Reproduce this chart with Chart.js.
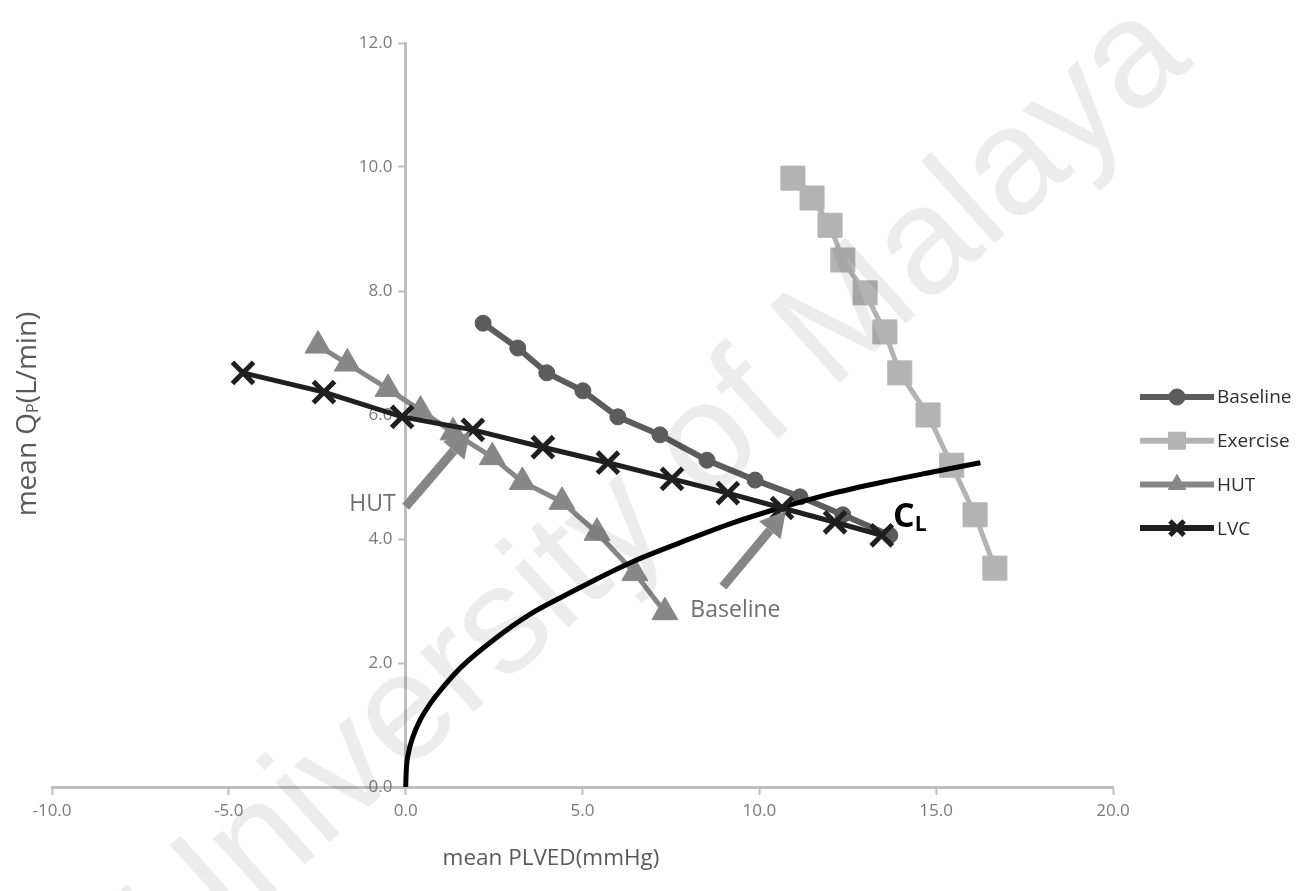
<!DOCTYPE html>
<html>
<head>
<meta charset="utf-8">
<title>Mean PLVED vs mean QP</title>
<script src="https://cdn.jsdelivr.net/npm/chart.js@4.4.1/dist/chart.umd.min.js"></script>
<style>
  html, body { margin: 0; padding: 0; background: #fff; }
  #wrap { width: 1314px; height: 891px; }
</style>
</head>
<body>
<div id="wrap"><canvas id="plvChart" width="1314" height="891"></canvas></div>
<script>
// mean PLVED (mmHg) / mean QP (L/min) for each condition
const baselineX = [2.19, 3.17, 3.99, 5.01, 6.0, 7.19, 8.52, 9.88, 11.15, 12.36, 13.69];
const baselineY = [7.48, 7.08, 6.68, 6.39, 5.97, 5.68, 5.27, 4.95, 4.68, 4.39, 4.06];

const exerciseX = [10.95, 11.49, 12.0, 12.36, 12.99, 13.55, 13.97, 14.77, 15.44, 16.1, 16.66];
const exerciseY = [9.82, 9.5, 9.06, 8.5, 7.97, 7.34, 6.68, 6.0, 5.19, 4.39, 3.53];

const hutX = [-2.48, -1.65, -0.5, 0.42, 1.34, 2.45, 3.3, 4.42, 5.41, 6.48, 7.33];
const hutY = [7.12, 6.83, 6.42, 6.07, 5.72, 5.32, 4.92, 4.6, 4.1, 3.45, 2.82];

const lvcX = [-4.6, -2.31, -0.1, 1.9, 3.88, 5.72, 7.53, 9.11, 10.64, 12.14, 13.46];
const lvcY = [6.68, 6.37, 5.97, 5.76, 5.48, 5.23, 4.97, 4.74, 4.5, 4.27, 4.06];

// CL curve, read along its length
const clX = [0, 0.02, 0.08, 0.2, 0.4, 0.7, 1.1, 1.6, 2.5, 3.5, 4.4, 5.35, 6.4, 7.8, 9.25, 10.7, 12.1, 13.5, 14.9, 16.25];
const clY = [0, 0.3, 0.55, 0.8, 1.07, 1.35, 1.64, 1.95, 2.38, 2.78, 3.06, 3.34, 3.63, 3.95, 4.26, 4.52, 4.74, 4.92, 5.08, 5.23];

const seriesNames = ['Baseline', 'Exercise', 'HUT', 'LVC'];

// pointer arrows with their captions, in data units
const arrowFrom = [[0.0, 4.52], [8.97, 3.23]];
const arrowTo = [[1.82, 5.73], [10.75, 4.45]];
const arrowText = ['HUT', 'Baseline'];
const arrowTextAt = [[-0.28, 4.55], [8.05, 2.85]];

const clLabelAt = [13.78, 4.2];

const toPoints = (xs, ys) => xs.map((x, i) => ({ x: x, y: ys[i] }));

const FONT = '"Open Sans", "DejaVu Sans", sans-serif';

function drawArrow(ctx, x1, y1, x2, y2) {
    const ang = Math.atan2(y2 - y1, x2 - x1);
    const headLen = 25, headW = 14;
    const bx = x2 - headLen * Math.cos(ang);
    const by = y2 - headLen * Math.sin(ang);
    ctx.strokeStyle = '#868686';
    ctx.fillStyle = '#868686';
    ctx.lineWidth = 9;
    ctx.beginPath();
    ctx.moveTo(x1, y1);
    ctx.lineTo(bx, by);
    ctx.stroke();
    ctx.beginPath();
    ctx.moveTo(x2, y2);
    ctx.lineTo(bx + headW * Math.sin(ang), by - headW * Math.cos(ang));
    ctx.lineTo(bx - headW * Math.sin(ang), by + headW * Math.cos(ang));
    ctx.closePath();
    ctx.fill();
}

const extras = {
    id: 'extras',
    beforeDraw(chart) {
        const ctx = chart.ctx;
        ctx.save();
        ctx.fillStyle = '#fff';
        ctx.fillRect(0, 0, chart.width, chart.height);
        ctx.restore();
    },
    afterDatasetsDraw(chart) {
        const ctx = chart.ctx;
        const xs = chart.scales.x, ys = chart.scales.y;
        ctx.save();
        arrowFrom.forEach((f, i) => {
            drawArrow(ctx,
                xs.getPixelForValue(f[0]), ys.getPixelForValue(f[1]),
                xs.getPixelForValue(arrowTo[i][0]), ys.getPixelForValue(arrowTo[i][1]));
            ctx.font = '23px ' + FONT;
            ctx.fillStyle = '#6f6f6f';
            ctx.textBaseline = 'middle';
            ctx.textAlign = i === 0 ? 'right' : 'left';
            ctx.fillText(arrowText[i], xs.getPixelForValue(arrowTextAt[i][0]), ys.getPixelForValue(arrowTextAt[i][1]));
        });

        // C with subscript L
        const cx = xs.getPixelForValue(clLabelAt[0]);
        const cy = ys.getPixelForValue(clLabelAt[1]);
        ctx.fillStyle = '#000';
        ctx.textAlign = 'left';
        ctx.textBaseline = 'alphabetic';
        ctx.font = 'bold 34px ' + FONT;
        ctx.fillText('C', cx, cy);
        const cw = ctx.measureText('C').width;
        ctx.font = 'bold 21px ' + FONT;
        ctx.fillText('L', cx + cw, cy + 4);
        ctx.restore();
    },
    afterDraw(chart) {
        const ctx = chart.ctx;
        const area = chart.chartArea;
        ctx.save();

        // legend: line sample with marker, then name
        const lx = area.right + 27;
        seriesNames.forEach((name, i) => {
            const ds = chart.data.datasets.find(d => d.label === name);
            const y = 397 + i * 43.7;
            ctx.strokeStyle = ds.borderColor;
            ctx.lineWidth = 6;
            ctx.beginPath();
            ctx.moveTo(lx, y);
            ctx.lineTo(lx + 74, y);
            ctx.stroke();
            ctx.fillStyle = ds.pointBackgroundColor;
            ctx.strokeStyle = ds.pointBorderColor;
            ctx.lineWidth = ds.pointBorderWidth;
            Chart.helpers.drawPoint(ctx, {
                pointStyle: ds.pointStyle,
                radius: ds.legendRadius,
                borderWidth: ds.pointBorderWidth,
                rotation: 0
            }, lx + 37, y);
            ctx.fillStyle = '#2e2e2e';
            ctx.font = '19px ' + FONT;
            ctx.textAlign = 'left';
            ctx.textBaseline = 'middle';
            ctx.fillText(name, lx + 77, y + 1);
        });

        // axis titles
        ctx.fillStyle = '#595959';
        ctx.font = '22.5px ' + FONT;
        ctx.textAlign = 'center';
        ctx.textBaseline = 'middle';
        ctx.fillText('mean PLVED(mmHg)', 551, 859);

        ctx.translate(28, 414);
        ctx.rotate(-Math.PI / 2);
        const big = '28px ' + FONT, small = '16px ' + FONT;
        ctx.font = big;
        const w1 = ctx.measureText('mean Q').width;
        const w3 = ctx.measureText('(L/min)').width;
        ctx.font = small;
        const w2 = ctx.measureText('P').width;
        const x0 = -(w1 + w2 + w3) / 2;
        ctx.textAlign = 'left';
        ctx.font = big;
        ctx.fillText('mean Q', x0, 0);
        ctx.font = small;
        ctx.fillText('P', x0 + w1, 5);
        ctx.font = big;
        ctx.fillText('(L/min)', x0 + w1 + w2, 0);
        ctx.restore();

        // faint diagonal watermark over the whole figure
        ctx.save();
        ctx.globalCompositeOperation = 'multiply';
        ctx.fillStyle = '#ececec';
        ctx.font = '152px "Liberation Sans", Arial, sans-serif';
        ctx.translate(658, 490);
        ctx.rotate(-42 * Math.PI / 180);
        ctx.textAlign = 'center';
        ctx.textBaseline = 'middle';
        ctx.fillText('University of Malaya', 0, 0);
        ctx.restore();
    }
};

document.addEventListener('DOMContentLoaded', () => {
    const ctx = document.getElementById('plvChart').getContext('2d');
    const axisGray = '#bfbfbf';
    const tickFont = { family: FONT, size: 17 };

    new Chart(ctx, {
        type: 'scatter',
        data: {
            datasets: [
                {
                    label: 'LVC',
                    data: toPoints(lvcX, lvcY),
                    showLine: true,
                    borderColor: '#1f1f1f',
                    borderWidth: 5,
                    pointStyle: 'crossRot',
                    pointRadius: 15,
                    pointBorderWidth: 5,
                    pointBorderColor: '#1f1f1f',
                    pointBackgroundColor: '#1f1f1f',
                    legendRadius: 10,
                    order: 0
                },
                {
                    label: 'CL',
                    data: toPoints(clX, clY),
                    showLine: true,
                    borderColor: '#000',
                    borderWidth: 5,
                    pointRadius: 0,
                    cubicInterpolationMode: 'monotone',
                    order: 1
                },
                {
                    label: 'HUT',
                    data: toPoints(hutX, hutY),
                    showLine: true,
                    borderColor: '#878787',
                    borderWidth: 5,
                    pointStyle: 'triangle',
                    pointRadius: 15,
                    pointBorderWidth: 1,
                    pointBorderColor: '#878787',
                    pointBackgroundColor: '#878787',
                    legendRadius: 10,
                    order: 2
                },
                {
                    label: 'Baseline',
                    data: toPoints(baselineX, baselineY),
                    showLine: true,
                    borderColor: '#5c5c5c',
                    borderWidth: 6,
                    pointStyle: 'circle',
                    pointRadius: 8,
                    pointBorderWidth: 1,
                    pointBorderColor: '#5c5c5c',
                    pointBackgroundColor: '#5c5c5c',
                    legendRadius: 8,
                    order: 3
                },
                {
                    label: 'Exercise',
                    data: toPoints(exerciseX, exerciseY),
                    showLine: true,
                    borderColor: '#b3b3b3',
                    borderWidth: 5,
                    pointStyle: 'rect',
                    pointRadius: 17,
                    pointBorderWidth: 1,
                    pointBorderColor: '#b3b3b3',
                    pointBackgroundColor: '#b3b3b3',
                    legendRadius: 12,
                    order: 4
                }
            ]
        },
        options: {
            responsive: false,
            animation: false,
            events: [],
            layout: { padding: { left: 52, right: 201, top: 43, bottom: 104 } },
            plugins: {
                legend: { display: false },
                tooltip: { enabled: false }
            },
            scales: {
                x: {
                    type: 'linear',
                    min: -10,
                    max: 20,
                    position: { y: 0 },
                    border: { display: true, color: axisGray, width: 3 },
                    grid: { drawOnChartArea: false, drawTicks: true, tickLength: 6, tickColor: axisGray, tickWidth: 2 },
                    ticks: {
                        stepSize: 5,
                        padding: 8,
                        color: '#7a7a7a',
                        font: tickFont,
                        callback: v => v.toFixed(1)
                    }
                },
                y: {
                    type: 'linear',
                    min: 0,
                    max: 12,
                    position: { x: 0 },
                    border: { display: true, color: axisGray, width: 3 },
                    grid: { drawOnChartArea: false, drawTicks: true, tickLength: 6, tickColor: axisGray, tickWidth: 2 },
                    ticks: {
                        stepSize: 2,
                        color: '#7a7a7a',
                        font: tickFont,
                        // trailing spaces keep the labels clear of the axis line
                        callback: v => v.toFixed(1) + '   '
                    }
                }
            }
        },
        plugins: [extras]
    });
});
</script>
</body>
</html>
